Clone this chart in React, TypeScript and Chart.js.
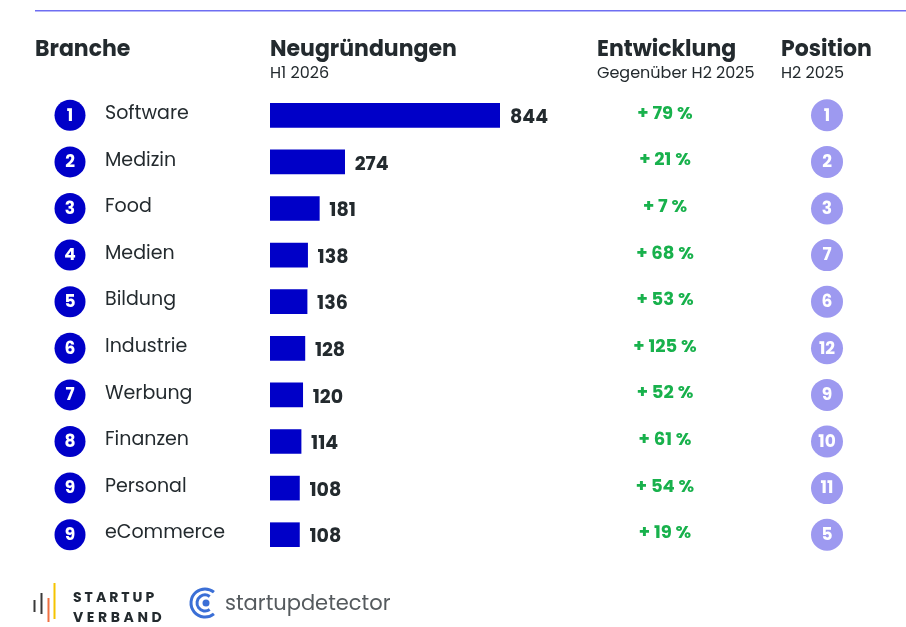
import { useEffect, useRef } from "react";
import { Chart, registerables } from "chart.js";

Chart.register(...registerables);

const categories = ["Software", "Medizin", "Food", "Medien", "Bildung", "Industrie", "Werbung", "Finanzen", "Personal", "eCommerce"];
const ranks = [1, 2, 3, 4, 5, 6, 7, 8, 9, 9];
const foundings = [844, 274, 181, 138, 136, 128, 120, 114, 108, 108];
const growthPct = [79, 21, 7, 68, 53, 125, 52, 61, 54, 19];
const prevPosition = [1, 2, 3, 7, 6, 12, 9, 10, 11, 5];

const FONT = "Poppins, Inter, 'Noto Sans', sans-serif";
const DARK = "#232a2e";
const BLUE = "#0000c8";
const GREEN = "#18b14c";
const LILAC = "#9d99f0";

const overlay = {
  id: "overlay",
  afterDraw(chart: any) {
    const ctx = chart.ctx as CanvasRenderingContext2D;
    const y = chart.scales.y;
    const meta = chart.getDatasetMeta(0);
    ctx.save();

    // top rule
    ctx.fillStyle = "#6e6ef2";
    ctx.fillRect(35, 10, 871, 1.5);

    // headers
    ctx.fillStyle = DARK;
    ctx.textAlign = "left";
    ctx.textBaseline = "alphabetic";
    ctx.font = `bold 22px ${FONT}`;
    ctx.fillText("Branche", 35, 56);
    ctx.fillText("Neugründungen", 270, 56);
    ctx.fillText("Entwicklung", 597, 56);
    ctx.fillText("Position", 781, 56);
    ctx.font = `16px ${FONT}`;
    ctx.fillText("H1 2026", 270, 78);
    ctx.fillText("Gegenüber H2 2025", 597, 78);
    ctx.fillText("H2 2025", 781, 78);

    categories.forEach((c, i) => {
      const cy = y.getPixelForValue(i);
      // rank circle
      ctx.fillStyle = BLUE;
      ctx.beginPath();
      ctx.arc(70, cy, 15.5, 0, Math.PI * 2);
      ctx.fill();
      ctx.fillStyle = "#ffffff";
      ctx.textAlign = "center";
      ctx.textBaseline = "middle";
      ctx.font = `bold 17px ${FONT}`;
      ctx.fillText(String(ranks[i]), 70, cy + 1);

      // category name
      ctx.fillStyle = DARK;
      ctx.textAlign = "left";
      ctx.font = `19px ${FONT}`;
      ctx.fillText(c, 105, cy - 1);

      // value label
      const bar = meta.data[i];
      ctx.font = `bold 19px ${FONT}`;
      ctx.fillText(String(foundings[i]), bar.x + 10, cy + 3);

      // growth
      ctx.fillStyle = GREEN;
      ctx.textAlign = "center";
      ctx.font = `bold 18px ${FONT}`;
      ctx.fillText(`+ ${growthPct[i]} %`, 665, cy - 1);

      // previous position
      ctx.fillStyle = LILAC;
      ctx.beginPath();
      ctx.arc(827, cy, 16, 0, Math.PI * 2);
      ctx.fill();
      ctx.fillStyle = "#ffffff";
      ctx.font = `bold 17px ${FONT}`;
      ctx.fillText(String(prevPosition[i]), 827, cy + 1);
    });

    // footer: Startup Verband logo
    ctx.fillStyle = "#3a3a3a";
    ctx.fillRect(33.5, 600, 2, 12);
    ctx.fillRect(40.5, 593, 2, 21);
    ctx.fillStyle = "#f07040";
    ctx.fillRect(47.5, 598, 2, 24);
    ctx.fillStyle = "#f5c400";
    ctx.fillRect(53.5, 583, 2, 36);
    ctx.fillStyle = DARK;
    ctx.textAlign = "left";
    ctx.textBaseline = "alphabetic";
    ctx.font = `bold 14px ${FONT}`;
    (ctx as any).letterSpacing = "3px";
    ctx.fillText("STARTUP", 73, 602);
    (ctx as any).letterSpacing = "3.6px";
    ctx.fillText("VERBAND", 73, 622);
    (ctx as any).letterSpacing = "0px";

    // startupdetector logo
    ctx.strokeStyle = "#3b6fd6";
    ctx.lineWidth = 3;
    ctx.beginPath();
    ctx.arc(205, 603, 14, Math.PI * 0.28, Math.PI * 1.72);
    ctx.stroke();
    ctx.beginPath();
    ctx.arc(205, 603, 8, Math.PI * 0.3, Math.PI * 1.7);
    ctx.stroke();
    ctx.fillStyle = "#3b6fd6";
    ctx.beginPath();
    ctx.arc(206, 603, 3.5, 0, Math.PI * 2);
    ctx.fill();
    ctx.fillStyle = "#555a5e";
    ctx.font = `21px ${FONT}`;
    ctx.fillText("startupdetector", 225, 610);

    ctx.restore();
  },
};

export default function App() {
  const ref = useRef<HTMLCanvasElement>(null);
  useEffect(() => {
    if (!ref.current) return;
    const chart = new Chart(ref.current, {
      type: "bar",
      data: {
        labels: categories,
        datasets: [
          {
            data: foundings,
            backgroundColor: BLUE,
            barThickness: 24,
            borderWidth: 0,
          },
        ],
      },
      options: {
        indexAxis: "y",
        responsive: false,
        animation: false,
        layout: { padding: { left: 270, right: 406, top: 92, bottom: 69 } },
        scales: {
          x: { display: false, min: 0, max: 844 },
          y: { display: false },
        },
        plugins: { legend: { display: false }, tooltip: { enabled: false } },
      },
      plugins: [overlay],
    });
    return () => chart.destroy();
  }, []);
  return (
    <div style={{ position: "absolute", left: 0, top: 0, width: 906, height: 627, background: "#fff" }}>
      <canvas ref={ref} width={906} height={627} />
    </div>
  );
}
